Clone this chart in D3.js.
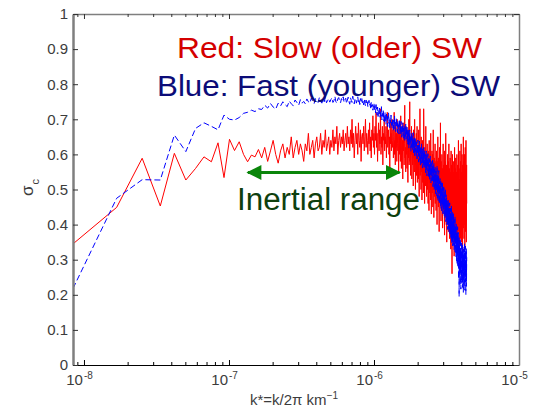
<!DOCTYPE html>
<html>
<head>
<meta charset="utf-8">
<script src="https://cdn.jsdelivr.net/npm/d3@7"></script>
<style>
  body { margin: 0; background: #ffffff; }
  svg { display: block; }
  text { font-family: "Liberation Sans", Arial, sans-serif; }
</style>
</head>
<body>
<svg id="chart"></svg>
<script>
// spectral bin spacing: k_n = n * dk (km^-1)
const dk = 8.4e-9;

// cross helicity sigma_c (x100), slow wind, n = 1..519
const redSigma = [
  34.5, 44.9, 58.9, 45.3, 60.3, 52.7, 56, 59.3, 57.9, 63.3, 53.4, 64.3, 61.1, 63.6, 60, 57.9, 59.8, 59.3, 61.4,
  59, 62, 58, 61, 64, 60, 57.5, 61, 63, 59, 62, 60, 65, 59, 62, 64, 60, 63, 61, 58,
  63, 61, 66, 60, 62, 64, 59, 63, 65, 61, 62, 66, 60, 64, 62, 67, 61, 63, 65, 60,
  64, 62, 67, 61, 65, 63, 68, 60, 64, 66, 62, 65, 63, 67, 61, 64, 66, 62, 68, 63,
  65, 61, 67, 63, 70, 62, 66, 59, 64, 68, 63, 66, 60, 69, 64, 62, 67, 58, 65, 66,
  63, 68, 61, 65, 70, 62, 66, 64, 60, 67, 63, 69, 61, 65, 59, 67, 64, 71, 62, 66,
  60, 68, 64, 72, 62, 66, 58, 65, 69, 61, 67, 63, 73, 60, 65, 62, 68, 57, 66, 64,
  70, 61, 65, 63, 68, 59, 66, 72, 62, 64, 67, 60, 65, 56, 69, 63, 66, 61, 70, 64,
  62, 67, 59, 65, 72, 60, 64, 57, 68, 62, 66, 58, 70, 63, 61, 67, 55, 64, 69, 60,
  65, 58, 71, 62, 56, 67, 60, 64, 53, 69, 61, 66, 57, 63, 74, 59, 62, 55, 68, 60,
  64, 56, 67, 61, 52, 66, 59, 70, 57, 63, 75, 58, 62, 54, 65, 60, 68, 53, 61, 66,
  57, 63, 51, 67, 59, 62, 55, 70, 58, 61, 50, 64, 57, 66, 54, 60, 68, 52, 62, 58,
  63, 53, 67, 56, 48, 61, 57, 73, 54, 60, 58, 50, 65, 55, 62, 47, 59, 64, 52, 57,
  61, 49, 73, 66, 53, 56, 46, 62, 55, 59, 51, 68, 54, 57, 48, 60, 53, 63, 50, 56,
  58, 46, 61, 53, 55, 44, 64, 52, 57, 49, 60, 54, 47, 66, 51, 56, 43, 58, 53, 61,
  49, 55, 60, 45, 53, 67, 50, 57, 42, 54, 59, 48, 56, 51, 63, 46, 55, 52, 58, 44,
  53, 61, 49, 56, 40, 54, 58, 47, 65, 51, 55, 45, 59, 50, 53, 38, 57, 62, 48, 54,
  52, 46, 69, 50, 55, 41, 58, 49, 53, 44, 60, 51, 47, 56, 39, 54, 50, 63, 45, 52,
  57, 43, 53, 48, 61, 37, 55, 50, 46, 58, 42, 52, 66, 47, 54, 40, 51, 57, 35, 49,
  55, 44, 50, 60, 41, 53, 47, 58, 38, 52, 48, 63, 43, 51, 56, 36, 49, 54, 45, 59,
  42, 50, 55, 33, 48, 61, 44, 52, 39, 57, 47, 26, 53, 45, 60, 41, 50, 35, 55, 46,
  52, 38, 58, 44, 49, 31, 54, 47, 62, 40, 51, 45, 36, 56, 48, 43, 59, 39, 50, 46,
  55, 34, 49, 44, 60, 41, 52, 37, 47, 57, 43, 50, 32, 54, 46, 64, 40, 51, 38, 48,
  56, 42, 49, 30, 53, 45, 61, 39, 50, 44, 58, 36, 48, 52, 41, 63, 46, 35, 55, 43,
  50, 47, 60, 38, 53, 44, 32, 57, 49, 41, 54, 46, 65, 39, 51, 43, 58, 36, 48, 52,
  44, 60, 40, 49, 33, 55, 47, 62, 42, 50, 38, 56, 45, 64, 41, 52, 35, 48, 57, 46
];

// cross helicity sigma_c (x100), fast wind, n = 1..519
const blueSigma = [
  21.8, 47.5, 52.8, 52.7, 65.5, 60.8, 67.4, 69, 68, 67, 71.2, 70, 69.8, 70.5, 71.7, 72, 72.6, 72.2, 73,
  72.8, 74, 73.2, 74.5, 73.5, 72.9, 74.6, 73.8, 75, 74.2, 73.6, 75.2, 74.4, 73.9, 75.5, 74.8, 74, 75.6, 74.6, 75.1,
  74.4, 75.8, 75, 74.6, 76, 75.2, 74.5, 75.9, 75.3, 74.8, 76.2, 75.1, 74.6, 75.7, 75, 76.3, 74.7, 75.4, 75.9, 74.9,
  75.6, 76.1, 74.8, 75.3, 76.5, 75, 74.6, 75.8, 76.2, 75.1, 74.7, 75.9, 75.4, 76.4, 74.9, 75.6, 76, 74.5, 75.5, 76.3,
  75, 74.3, 76.1, 75.4, 74.8, 76.6, 75.2, 74.4, 75.7, 76, 74.6, 75.3, 76.4, 74.9, 75.6, 74.2, 75.9, 75.1, 76.2, 74.7,
  75.3, 74.1, 75.8, 74.6, 73.8, 75.5, 74.3, 75, 73.6, 74.8, 75.4, 73.9, 74.5, 72.8, 74.9, 73.5, 74.2, 72.6, 73.8, 74.6,
  72.4, 73.9, 71.8, 74.2, 72.9, 71.2, 73.5, 70.8, 72.6, 71.5, 73.2, 70.6, 72.1, 71, 73.6, 69.8, 71.7, 70.4, 72.8, 69.5,
  71.3, 69.2, 72, 70.1, 68.6, 71.5, 69.7, 70.8, 67.9, 70.3, 71.9, 68.8, 69.9, 67.6, 70.6, 69, 71.2, 68.3, 69.6, 67.4,
  70.2, 68.5, 66.9, 69.8, 68.1, 71, 67.3, 69.2, 66.5, 68.8, 70.4, 67.6, 68.9, 66.2, 69.5, 67.1, 68.4, 65.8, 70, 67.8,
  66.9, 68.7, 65.6, 69.4, 67.2, 64.9, 68.1, 66.4, 69, 65.3, 67.5, 64.6, 68.3, 66, 63.9, 67.7, 65.1, 68.6, 64.3, 66.8,
  65.4, 68.2, 63.7, 66.6, 62.9, 67.3, 64.8, 61.8, 66.1, 63.4, 67, 62.5, 65.2, 63.9, 60.9, 66.3, 64.1, 62, 65.7, 61.4,
  64.5, 62.2, 66.2, 60.4, 63.8, 61.7, 65, 59.6, 63, 62.4, 60.8, 64.6, 61.1, 59.2, 63.5, 62, 58.7, 62.8, 60.3, 64.1,
  59.5, 62.6, 57.8, 61.9, 60.7, 63.8, 58.2, 61.3, 59.9, 56.9, 62.3, 60.1, 58.6, 63.1, 57.4, 60.9, 59.3, 56.1, 61.6, 58.8,
  60.4, 57.1, 62, 58.3, 55.9, 61.2, 59, 56.6, 60.1, 57.7, 54.8, 59.8, 57.3, 61, 55.7, 58.5, 53.9, 59.4, 56.3, 57.9,
  60.2, 55.2, 57.6, 53.4, 59, 56.8, 54.6, 58.7, 52.8, 57.1, 55.5, 59.5, 53.8, 56.4, 51.9, 58.1, 54.9, 56.2, 52.4, 57.5,
  55.1, 52.6, 58.3, 53.7, 50.8, 56.9, 54.2, 51.5, 57.4, 53, 49.9, 55.8, 52.1, 54.6, 50.4, 56.3, 51.2, 48.8, 54, 52.7,
  55.2, 50.1, 53.4, 48.2, 56.8, 51.6, 47.5, 54.3, 50.7, 52.9, 46.8, 53.7, 49.6, 55.4, 48.9, 51.3, 45.9, 52.5, 50, 47.4,
  53.1, 48.3, 50.9, 45.2, 52.3, 49.1, 44.6, 51.8, 47.7, 50.2, 43.9, 49.5, 46.6, 52, 45.8, 48.6, 43.1, 50.6, 46.1, 47.9,
  44.3, 51, 46.9, 42.6, 49.3, 45.4, 48.1, 41.7, 47.2, 44.8, 50.2, 42.9, 46.3, 40.8, 48.5, 44.1, 41.2, 47.6, 43.5, 45.9,
  39.9, 46.8, 42.4, 44.9, 38.6, 45.6, 41.3, 47.1, 39.2, 43.7, 40.5, 45.1, 37.8, 42.8, 44.4, 38.9, 46.2, 40.1, 36.9, 43.2,
  41.6, 37.4, 44.7, 39.5, 35.8, 42.5, 38.1, 45.3, 36.4, 40.9, 34.6, 41.9, 38.8, 43.8, 35.1, 39.8, 33.9, 42.1, 37, 40.3,
  36.2, 43.1, 34.3, 38.4, 40.8, 32.9, 37.6, 41.4, 33.6, 39.1, 35.4, 42.3, 31.8, 36.8, 39.7, 33.2, 38, 30.9, 35.9, 40.6,
  34.1, 37.3, 29.7, 38.9, 32.4, 35.7, 28.6, 36.9, 31.3, 39.4, 33.1, 27.8, 35, 30.2, 37.8, 29.1, 34.4, 24.5, 32.1, 36.3,
  19.5, 30.6, 35.5, 27.4, 33.8, 25.9, 31.7, 22.8, 36.1, 28.3, 32.6, 26.5, 34.9, 21.6, 30, 33.3, 27.1, 24.2, 31.5, 35.2,
  28.9, 23.4, 32.3, 26.1, 34.2, 29.6, 22.1, 30.8, 27.7, 33.5, 25.3, 31.1, 20.7, 29.2, 33, 26.8, 24.8, 31.9, 28, 22.6,
  30.3, 34.6, 25.6, 28.5, 21.3, 32.7, 27.3, 30.1, 23.7, 33.9, 26.3, 29.4, 20.1, 31.2, 25, 28.8, 33.2, 22.4, 27.9, 30.7
];

const yTicks = [0, 0.1, 0.2, 0.3, 0.4, 0.5, 0.6, 0.7, 0.8, 0.9, 1];
const yTickLabels = ["0", "0.1", "0.2", "0.3", "0.4", "0.5", "0.6", "0.7", "0.8", "0.9", "1"];
const xMajor = [1e-8, 1e-7, 1e-6, 1e-5];
const xMajorExp = ["-8", "-7", "-6", "-5"];
const inertialRange = [1.35e-7, 1.5e-6];

const width = 547, height = 411;
const margin = { top: 14, right: 28, bottom: 46, left: 73 };

const svg = d3.select("#chart")
  .attr("width", width)
  .attr("height", height);

svg.append("rect").attr("width", width).attr("height", height).attr("fill", "#ffffff");

const x = d3.scaleLog()
  .domain([dk, 1e-5])
  .range([margin.left, width - margin.right]);

const y = d3.scaleLinear()
  .domain([0, 1])
  .range([height - margin.bottom, margin.top]);

// minor ticks on the log axis
const xMinor = [];
[1e-9, 1e-8, 1e-7, 1e-6].forEach(p => {
  for (let m = 2; m <= 9; m++) {
    const v = m * p;
    if (v >= dk && v <= 1e-5) xMinor.push(v);
  }
});

svg.append("clipPath").attr("id", "plot-clip")
  .append("rect")
  .attr("x", margin.left).attr("y", margin.top)
  .attr("width", width - margin.left - margin.right)
  .attr("height", height - margin.top - margin.bottom);

const toPoints = arr => arr.map((v, i) => ({ k: (i + 1) * dk, s: v / 100 }));

const line = d3.line()
  .x(d => x(d.k))
  .y(d => y(d.s));

const plot = svg.append("g").attr("clip-path", "url(#plot-clip)");

plot.append("path")
  .datum(toPoints(redSigma))
  .attr("fill", "none")
  .attr("stroke", "#ff0000")
  .attr("stroke-width", 1)
  .attr("d", line);

plot.append("path")
  .datum(toPoints(blueSigma))
  .attr("fill", "none")
  .attr("stroke", "#0000ff")
  .attr("stroke-width", 1)
  .attr("stroke-dasharray", "6,3")
  .attr("d", line);

// axes: ticks point inward like the original figure
const bottomAxis = svg.append("g")
  .attr("transform", `translate(0,${height - margin.bottom})`)
  .call(d3.axisBottom(x).tickValues(xMajor).tickSizeInner(-5).tickSizeOuter(0).tickFormat(""));
bottomAxis.select(".domain").attr("stroke", "#000").attr("stroke-width", 1.2);
bottomAxis.selectAll(".tick line").attr("stroke", "#000");

svg.append("g")
  .attr("transform", `translate(0,${height - margin.bottom})`)
  .call(d3.axisBottom(x).tickValues(xMinor).tickSizeInner(-3).tickSizeOuter(0).tickFormat(""))
  .call(g => g.select(".domain").remove())
  .selectAll(".tick line").attr("stroke", "#000");

const topAxis = svg.append("g")
  .attr("transform", `translate(0,${margin.top})`)
  .call(d3.axisTop(x).tickValues(xMajor).tickSizeInner(-5).tickSizeOuter(0).tickFormat(""));
topAxis.select(".domain").attr("stroke", "#7f7f7f").attr("stroke-width", 1.5);
topAxis.selectAll(".tick line").attr("stroke", "#333");

svg.append("g")
  .attr("transform", `translate(0,${margin.top})`)
  .call(d3.axisTop(x).tickValues(xMinor).tickSizeInner(-3).tickSizeOuter(0).tickFormat(""))
  .call(g => g.select(".domain").remove())
  .selectAll(".tick line").attr("stroke", "#333");

const leftAxis = svg.append("g")
  .attr("transform", `translate(${margin.left},0)`)
  .call(d3.axisLeft(y).tickValues(yTicks).tickSizeInner(-5).tickSizeOuter(0).tickPadding(5)
    .tickFormat((d, i) => yTickLabels[i]));
leftAxis.select(".domain").attr("stroke", "#7f7f7f").attr("stroke-width", 2.5);
leftAxis.selectAll(".tick line").attr("stroke", "#333");
leftAxis.selectAll(".tick text")
  .attr("font-size", 15)
  .attr("fill", "#3c3c3c")
  .style("font-family", "'Liberation Sans', Arial, sans-serif");

const rightAxis = svg.append("g")
  .attr("transform", `translate(${width - margin.right},0)`)
  .call(d3.axisRight(y).tickValues(yTicks).tickSizeInner(-5).tickSizeOuter(0).tickFormat(""));
rightAxis.select(".domain").attr("stroke", "#7f7f7f").attr("stroke-width", 1.5);
rightAxis.selectAll(".tick line").attr("stroke", "#333");

// x tick labels 10^n
const xLab = svg.append("g");
xMajor.forEach((v, i) => {
  xLab.append("text")
    .attr("x", x(v) - 1)
    .attr("y", height - margin.bottom + 20)
    .attr("text-anchor", "end")
    .attr("font-size", 15)
    .attr("fill", "#3c3c3c")
    .text("10");
  xLab.append("text")
    .attr("x", x(v))
    .attr("y", height - margin.bottom + 14)
    .attr("font-size", 10)
    .attr("fill", "#3c3c3c")
    .text(xMajorExp[i]);
});

// axis titles
const xTitle = svg.append("text")
  .attr("x", 250)
  .attr("y", 405)
  .attr("font-size", 15)
  .attr("fill", "#3c3c3c");
xTitle.append("tspan").text("k*=k/2π km");
xTitle.append("tspan").attr("font-size", 10).attr("dy", -6).text("−1");

const yTitle = svg.append("text")
  .attr("transform", "translate(33,196) rotate(-90)")
  .attr("font-size", 17)
  .attr("fill", "#3c3c3c");
yTitle.append("tspan").text("σ");
yTitle.append("tspan").attr("font-size", 11).attr("dy", 6).attr("dx", 1).text("c");

// annotations
svg.append("text")
  .attr("x", 177).attr("y", 58)
  .attr("font-size", 29)
  .attr("fill", "#d40000")
  .attr("textLength", 305)
  .attr("lengthAdjust", "spacingAndGlyphs")
  .text("Red: Slow (older) SW");

svg.append("text")
  .attr("x", 157).attr("y", 96)
  .attr("font-size", 29)
  .attr("fill", "#0c0c78")
  .attr("textLength", 343)
  .attr("lengthAdjust", "spacingAndGlyphs")
  .text("Blue: Fast (younger) SW");

const defs = svg.append("defs");
defs.append("marker")
  .attr("id", "arrowhead")
  .attr("viewBox", "0 0 10 10")
  .attr("refX", 9).attr("refY", 5)
  .attr("markerUnits", "userSpaceOnUse")
  .attr("markerWidth", 16).attr("markerHeight", 15)
  .attr("orient", "auto-start-reverse")
  .append("path")
  .attr("d", "M0,0 L10,5 L0,10 Z")
  .attr("fill", "#0a850a");

svg.append("line")
  .attr("x1", x(inertialRange[0])).attr("x2", x(inertialRange[1]))
  .attr("y1", 172.5).attr("y2", 172.5)
  .attr("stroke", "#0a850a")
  .attr("stroke-width", 3)
  .attr("marker-start", "url(#arrowhead)")
  .attr("marker-end", "url(#arrowhead)");

svg.append("text")
  .attr("x", 237).attr("y", 210)
  .attr("font-size", 31)
  .attr("fill", "#0e400e")
  .attr("textLength", 183)
  .attr("lengthAdjust", "spacingAndGlyphs")
  .text("Inertial range");
</script>
</body>
</html>
